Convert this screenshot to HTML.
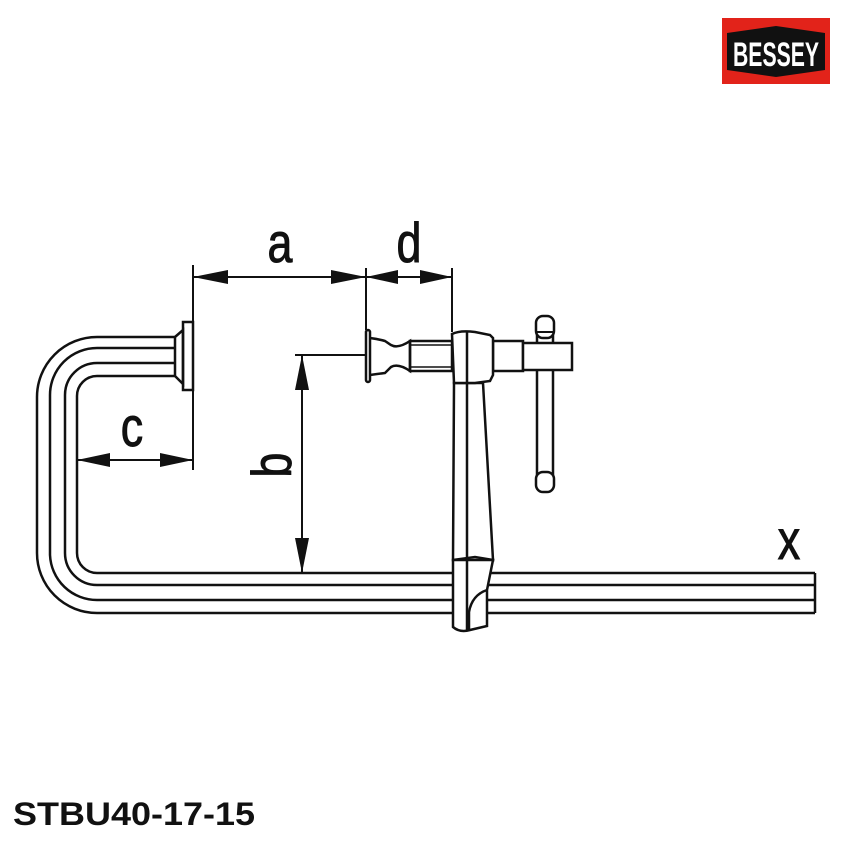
<!DOCTYPE html>
<html><head><style>html,body{margin:0;padding:0;background:#fff;}svg{display:block}</style></head>
<body>
<svg width="850" height="850" viewBox="0 0 850 850" xmlns="http://www.w3.org/2000/svg">
<!-- logo -->
<rect x="722" y="18" width="108" height="66" fill="#e2231a"/>
<polygon points="727,33 776,26 825,33 825,70 776,77 727,70" fill="#111"/>
<text x="776" y="66" font-family="Liberation Sans, sans-serif" font-weight="bold" font-size="34" fill="#fff" text-anchor="middle" textLength="86" lengthAdjust="spacingAndGlyphs">BESSEY</text>
<g fill="none" stroke="#111" stroke-width="2.5">
<!-- C frame -->
<path d="M175,337 H97 A60,60 0 0 0 37,397 V553 A60,60 0 0 0 97,613 H815"/>
<path d="M175,348 H97 A47,47 0 0 0 50,395 V555 A47,47 0 0 0 97,600 H815"/>
<path d="M175,363 H97 A32,32 0 0 0 65,395 V553 A32,32 0 0 0 97,585 H815"/>
<path d="M175,376 H97 A20,20 0 0 0 77,396 V553 A20,20 0 0 0 97,573 H815"/>
<line x1="815" y1="573" x2="815" y2="613"/>
<!-- fixed jaw -->
<path d="M175,337 L183,330 V384 L175,376 Z"/>
<rect x="183" y="322" width="10" height="68"/>
<!-- pad -->
<rect x="366" y="330" width="4" height="52" rx="2"/>
<path d="M370,338 Q378,339 385,341 L391,345 Q398,349 410,341 V371 Q398,363 391,367 L385,373 Q378,374 370,375"/>
<rect x="410" y="341" width="42" height="30"/>
<line x1="410" y1="345" x2="452" y2="345" stroke-width="1.5"/>
<line x1="410" y1="367" x2="452" y2="367" stroke-width="1.5"/>
<rect x="493" y="341" width="30" height="30"/>
<!-- T handle -->
<rect x="537" y="330" width="16" height="148" fill="#fff"/>
<rect x="536" y="316" width="18" height="22" rx="7" fill="#fff"/>
<rect x="536" y="472" width="18" height="20" rx="7" fill="#fff"/>
<rect x="523" y="343" width="49" height="27" fill="#fff"/>
<line x1="537" y1="332" x2="553" y2="332" stroke-width="2"/>
<!-- slider -->
<path d="M454,383 L453,560 L475,557 L493,560 L483,383 Z" fill="#fff"/>
<path d="M453,560 V627 Q460,633 470,630 L487,626 V590 L493,560 Z" fill="#fff"/>
<path d="M487,590 Q472,595 469,612 V630" />
<path d="M452,334 Q460,330 475,332 L490,335 L493,338 V375 L490,381 L475,383 L454,383 Z" fill="#fff"/>
<line x1="467" y1="332" x2="467" y2="630"/>
</g>
<g stroke="#111" stroke-width="2" fill="none">
<line x1="193" y1="265" x2="193" y2="470"/>
<line x1="366" y1="268" x2="366" y2="330"/>
<line x1="452" y1="268" x2="452" y2="332"/>
<line x1="295" y1="355" x2="366" y2="355"/>
<line x1="193" y1="277" x2="452" y2="277"/>
<line x1="77" y1="460" x2="193" y2="460"/>
<line x1="302" y1="355" x2="302" y2="573"/>
</g>
<g fill="#111">
<polygon points="193,277 228,270 228,284"/>
<polygon points="366,277 331,270 331,284"/>
<polygon points="366,277 398,270 398,284"/>
<polygon points="452,277 420,270 420,284"/>
<polygon points="77,460 110,453 110,467"/>
<polygon points="193,460 160,453 160,467"/>
<polygon points="302,355 295,390 309,390"/>
<polygon points="302,573 295,538 309,538"/>
</g>
<g font-family="Liberation Sans, sans-serif" fill="#111" font-size="56" stroke="#111" stroke-width="1">
<text transform="translate(280,262) scale(0.8,1)" text-anchor="middle">a</text>
<text transform="translate(409,262) scale(0.8,1)" text-anchor="middle">d</text>
<text transform="translate(132,446) scale(0.8,1)" text-anchor="middle">c</text>
<text transform="translate(789,559) scale(0.8,1)" text-anchor="middle">x</text>
<text transform="translate(291,465) rotate(-90) scale(0.8,1)" text-anchor="middle">b</text>
</g>
<text x="13" y="825" font-family="Liberation Sans, sans-serif" font-weight="bold" font-size="32" fill="#111" textLength="242" lengthAdjust="spacingAndGlyphs">STBU40-17-15</text>
</svg>
</body></html>
